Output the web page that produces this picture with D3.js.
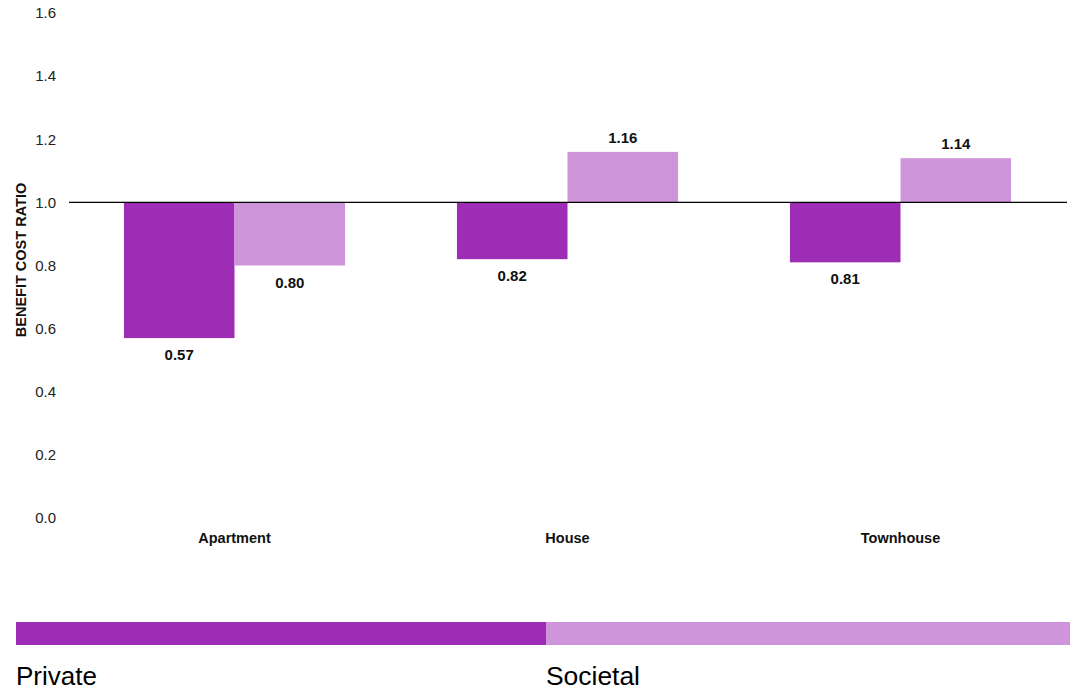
<!DOCTYPE html>
<html>
<head>
<meta charset="utf-8">
<script src="https://cdn.jsdelivr.net/npm/d3@7"></script>
<style>
  body { margin: 0; background: #fff; }
  svg { font-family: "Liberation Sans", Arial, sans-serif; display: block; }
</style>
</head>
<body>
<script>
var categories = ["Apartment", "House", "Townhouse"];
var seriesNames = ["Private", "Societal"];
var privateValues = [0.57, 0.82, 0.81];
var societalValues = [0.80, 1.16, 1.14];
var yTicks = [0, 0.2, 0.4, 0.6, 0.8, 1.0, 1.2, 1.4, 1.6];
var baseValue = 1.0;

var width = 1072, height = 691;
var colors = ["#9e2db6", "#cf95da"];

var svg = d3.select("body").append("svg")
  .attr("width", width)
  .attr("height", height);

var y = d3.scaleLinear().domain([0, 1.6]).range([518, 13]);
var x = d3.scaleBand().domain(categories).range([68, 1067])
  .paddingInner(0.336).paddingOuter(0.168);
var xs = d3.scaleBand().domain(seriesNames).range([0, x.bandwidth()]);

// y tick labels, no axis line
svg.append("g").selectAll("text")
  .data(yTicks)
  .enter().append("text")
  .attr("x", 56)
  .attr("y", d => y(d))
  .attr("dy", "0.35em")
  .attr("text-anchor", "end")
  .attr("font-size", 15)
  .attr("fill", "#222")
  .text(d => d3.format(".1f")(d));

// axis title
svg.append("text")
  .attr("transform", "translate(26,260) rotate(-90)")
  .attr("text-anchor", "middle")
  .attr("font-size", 14.5)
  .attr("font-weight", "bold")
  .attr("fill", "#111")
  .text("BENEFIT COST RATIO");

var data = [];
categories.forEach(function(c, i) {
  data.push({cat: c, series: "Private", value: privateValues[i], color: colors[0]});
  data.push({cat: c, series: "Societal", value: societalValues[i], color: colors[1]});
});

svg.append("g").selectAll("rect")
  .data(data)
  .enter().append("rect")
  .attr("x", d => x(d.cat) + xs(d.series))
  .attr("width", xs.bandwidth())
  .attr("y", d => y(Math.max(d.value, baseValue)))
  .attr("height", d => Math.abs(y(d.value) - y(baseValue)))
  .attr("fill", d => d.color);

// value labels
svg.append("g").selectAll("text")
  .data(data)
  .enter().append("text")
  .attr("x", d => x(d.cat) + xs(d.series) + xs.bandwidth() / 2)
  .attr("y", d => d.value >= baseValue ? y(d.value) - 9 : y(d.value) + 22)
  .attr("text-anchor", "middle")
  .attr("font-size", 15)
  .attr("font-weight", "bold")
  .attr("fill", "#111")
  .text(d => d3.format(".2f")(d.value));

// baseline at 1.0
svg.append("line")
  .attr("x1", 69).attr("x2", 1067)
  .attr("y1", y(baseValue)).attr("y2", y(baseValue))
  .attr("stroke", "#000")
  .attr("stroke-width", 1.2);

// category labels
svg.append("g").selectAll("text")
  .data(categories)
  .enter().append("text")
  .attr("x", d => x(d) + x.bandwidth() / 2)
  .attr("y", 543)
  .attr("text-anchor", "middle")
  .attr("font-size", 14.5)
  .attr("font-weight", "bold")
  .attr("fill", "#111")
  .text(d => d);

// legend
var lx = d3.scaleBand().domain(seriesNames).range([16, 1076]);
var legend = svg.append("g").selectAll("g")
  .data(seriesNames)
  .enter().append("g");
legend.append("rect")
  .attr("x", d => lx(d))
  .attr("y", 622)
  .attr("width", (d, i) => i === 0 ? lx.bandwidth() : 1070 - lx(d))
  .attr("height", 23)
  .attr("fill", (d, i) => colors[i]);
legend.append("text")
  .attr("x", d => lx(d))
  .attr("y", 685)
  .attr("font-size", 25)
  .attr("fill", "#000")
  .attr("textLength", (d, i) => i === 0 ? 81 : 94)
  .attr("lengthAdjust", "spacingAndGlyphs")
  .text(d => d);
</script>
</body>
</html>
